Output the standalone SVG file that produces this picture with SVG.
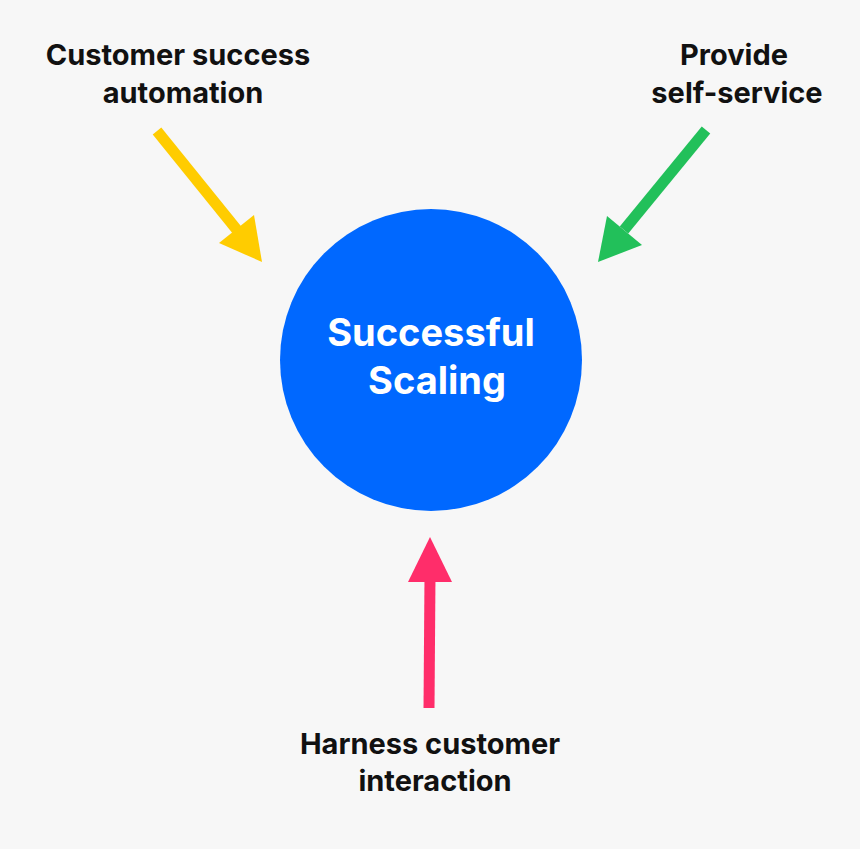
<svg xmlns="http://www.w3.org/2000/svg" width="860" height="849" viewBox="0 0 860 849">
<style>
text{font-family:Inter,"Liberation Sans",sans-serif;font-weight:700;text-anchor:middle}
.l{font-size:29px;fill:#111}
.c{font-size:38px;fill:#fff}
</style>
<rect width="860" height="849" fill="#f7f7f7"/>
<g id="connectors">
<line x1="157" y1="131" x2="237" y2="230" stroke="#ffcc00" stroke-width="11"/>
<polygon points="262,262 219,243 254,215" fill="#ffcc00"/>
<line x1="706" y1="130" x2="624" y2="230" stroke="#22c05a" stroke-width="11"/>
<polygon points="598,262 607,216 642,245" fill="#22c05a"/>
<line x1="429" y1="708" x2="430" y2="575" stroke="#ff2d6a" stroke-width="11"/>
<polygon points="430,537 408,582 452,582" fill="#ff2d6a"/>
</g>
<g id="center"><circle cx="431" cy="360" r="151" fill="#0068ff"/>
<text class="c" x="431" y="346">Successful</text><text class="c" x="437" y="394">Scaling</text></g>
<g id="n1"><text class="l" x="178" y="65">Customer success</text><text class="l" x="183" y="103">automation</text></g>
<g id="n2"><text class="l" x="734" y="65">Provide</text><text class="l" x="737" y="103">self-service</text></g>
<g id="n3"><text class="l" x="430" y="754">Harness customer</text><text class="l" x="435" y="791">interaction</text></g>
</svg>
